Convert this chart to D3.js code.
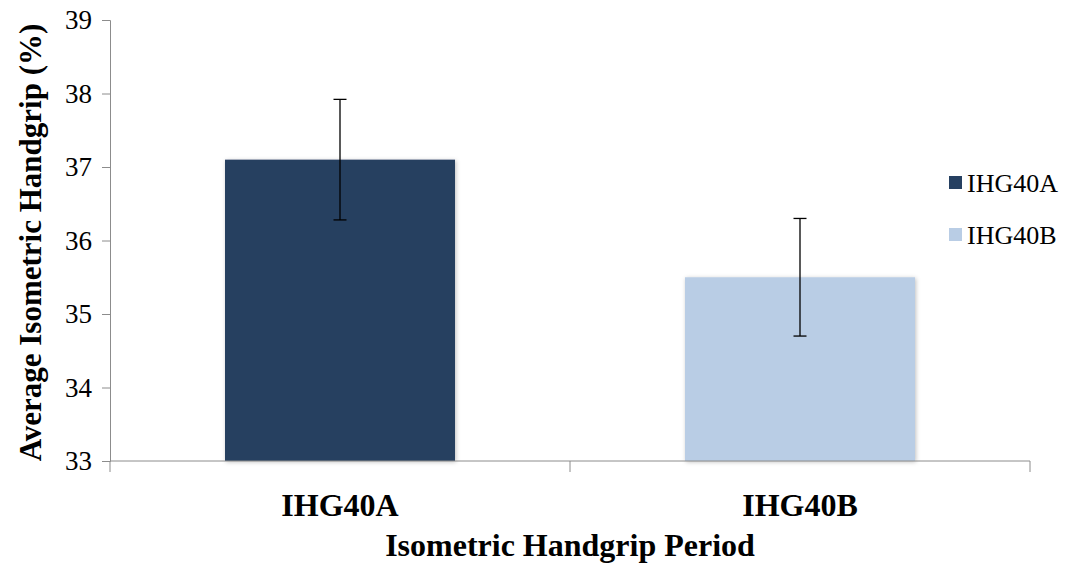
<!DOCTYPE html>
<html>
<head>
<meta charset="utf-8">
<script src="https://cdn.jsdelivr.net/npm/d3@7"></script>
<style>
  body { margin: 0; background: #fff; }
  svg { display: block; }
  text { font-family: "Liberation Serif", "Times New Roman", serif; fill: #000; }
</style>
</head>
<body>
<div id="chart"></div>
<script>
// data
const categories = ["IHG40A", "IHG40B"];
const means = [37.1, 35.5];
const errors = [0.82, 0.8];
const colors = ["#264061", "#b9cde5"];
const yTicks = [33, 34, 35, 36, 37, 38, 39];

const serif = '"Liberation Serif", "Times New Roman", serif';

const width = 1066, height = 563;
const margin = {top: 20, right: 36, bottom: 102, left: 110};
const innerW = 1030 - margin.left, innerH = 461 - margin.top;

const svg = d3.select("#chart").append("svg")
    .attr("width", width)
    .attr("height", height);

// soft shadow under the bars
const defs = svg.append("defs");
const shadow = defs.append("filter").attr("id", "shadow")
    .attr("x", "-5%").attr("y", "-5%").attr("width", "110%").attr("height", "110%");
shadow.append("feDropShadow")
    .attr("dx", 1).attr("dy", 1).attr("stdDeviation", 2)
    .attr("flood-color", "#000").attr("flood-opacity", 0.25);

const g = svg.append("g")
    .attr("transform", `translate(${margin.left},${margin.top})`);

const x = d3.scaleBand()
    .domain(categories)
    .range([0, innerW])
    .paddingInner(0.5)
    .paddingOuter(0.25);

const y = d3.scaleLinear()
    .domain([33, 39])
    .range([innerH, 0]);

// bars
g.selectAll(".bar")
    .data(categories)
    .enter().append("rect")
    .attr("class", "bar")
    .attr("x", d => x(d))
    .attr("y", (d, i) => y(means[i]))
    .attr("width", x.bandwidth())
    .attr("height", (d, i) => y(33) - y(means[i]))
    .attr("fill", (d, i) => colors[i])
    .attr("filter", "url(#shadow)");

// error bars
const capW = 6.5;
const err = g.selectAll(".err")
    .data(categories)
    .enter().append("g")
    .attr("class", "err")
    .attr("stroke", "#000")
    .attr("stroke-width", 1.3);

err.append("line")
    .attr("x1", d => x(d) + x.bandwidth() / 2)
    .attr("x2", d => x(d) + x.bandwidth() / 2)
    .attr("y1", (d, i) => y(means[i] + errors[i]))
    .attr("y2", (d, i) => y(means[i] - errors[i]));

[1, -1].forEach(sign => {
    err.append("line")
        .attr("x1", d => x(d) + x.bandwidth() / 2 - capW)
        .attr("x2", d => x(d) + x.bandwidth() / 2 + capW)
        .attr("y1", (d, i) => y(means[i] + sign * errors[i]))
        .attr("y2", (d, i) => y(means[i] + sign * errors[i]));
});

// y axis
const yAxis = g.append("g")
    .call(d3.axisLeft(y).tickValues(yTicks).tickFormat(d3.format("d")).tickSize(8).tickPadding(10));
yAxis.attr("font-family", null).attr("font-size", null);
yAxis.select(".domain").attr("stroke", "#8c8c8c");
yAxis.selectAll(".tick line").attr("stroke", "#8c8c8c");
yAxis.selectAll(".tick text")
    .style("font-family", serif)
    .style("font-size", "27px")
    .attr("fill", "#000");

// x axis: a baseline with dividers between categories
const xAxis = g.append("g").attr("transform", `translate(0,${innerH})`);
xAxis.append("line")
    .attr("x1", 0).attr("x2", innerW)
    .attr("stroke", "#8c8c8c");
[0, 1, 2].forEach(k => {
    xAxis.append("line")
        .attr("x1", k * innerW / 2).attr("x2", k * innerW / 2)
        .attr("y1", 0).attr("y2", 11)
        .attr("stroke", "#8c8c8c");
});
xAxis.selectAll(".xlab")
    .data(categories)
    .enter().append("text")
    .attr("class", "xlab")
    .attr("x", d => x(d) + x.bandwidth() / 2)
    .attr("y", 55)
    .attr("text-anchor", "middle")
    .style("font-family", serif)
    .style("font-size", "32px")
    .style("font-weight", "bold")
    .text(d => d);

// axis titles
svg.append("text")
    .attr("x", margin.left + innerW / 2)
    .attr("y", 556)
    .attr("text-anchor", "middle")
    .style("font-family", serif)
    .style("font-size", "32px")
    .style("font-weight", "bold")
    .text("Isometric Handgrip Period");

svg.append("text")
    .attr("transform", `translate(41,${margin.top + innerH / 2 + 2}) rotate(-90)`)
    .attr("text-anchor", "middle")
    .style("font-family", serif)
    .style("font-size", "31px")
    .style("font-weight", "bold")
    .text("Average Isometric Handgrip (%)");

// legend
const legend = svg.append("g").attr("transform", "translate(949,183)");
const item = legend.selectAll(".item")
    .data(categories)
    .enter().append("g")
    .attr("class", "item")
    .attr("transform", (d, i) => `translate(0,${i * 52})`);
item.append("rect")
    .attr("x", 0).attr("y", -7)
    .attr("width", 13).attr("height", 13)
    .attr("fill", (d, i) => colors[i]);
item.append("text")
    .attr("x", 18).attr("y", 9)
    .style("font-family", serif)
    .style("font-size", "26px")
    .text(d => d);
</script>
</body>
</html>
